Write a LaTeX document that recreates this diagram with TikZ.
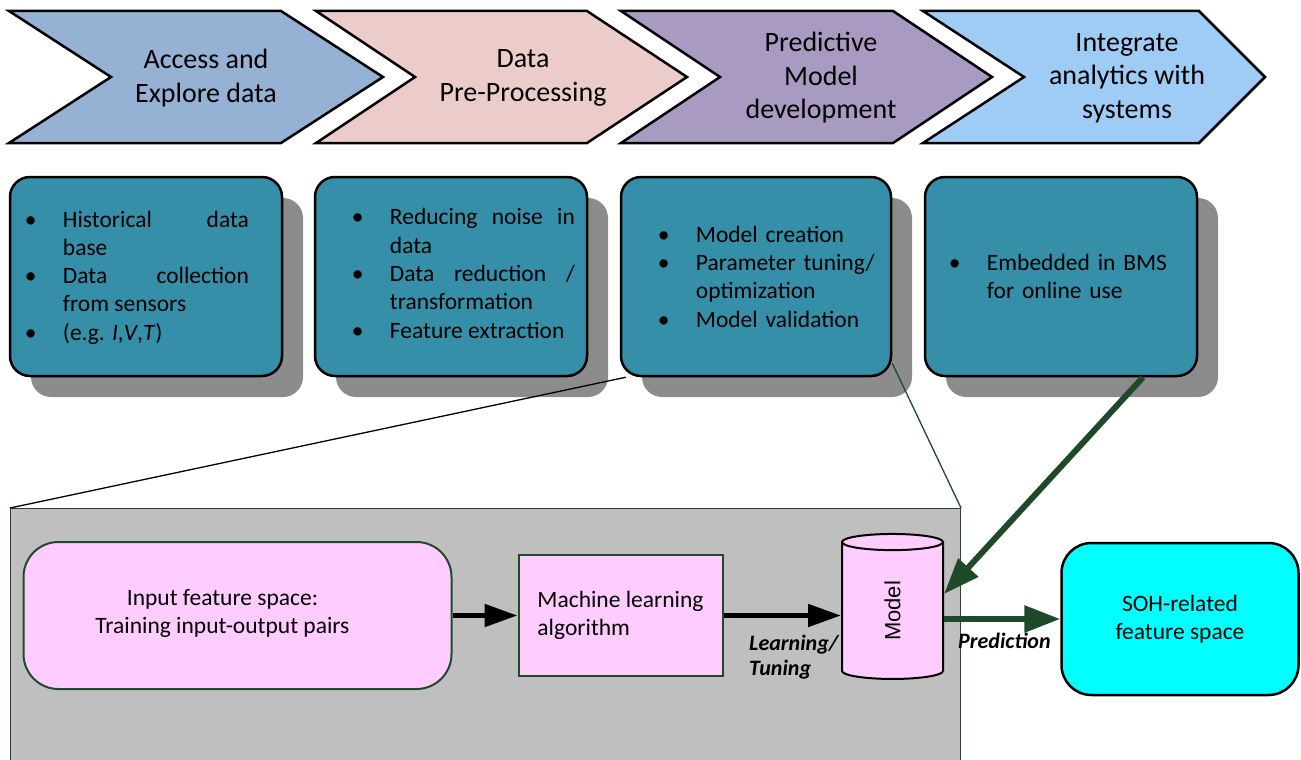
\documentclass[tikz,border=0pt]{standalone}
\usepackage{fontspec}
\setmainfont{Carlito}
\newfontfamily\arialfont{Liberation Sans}
\usetikzlibrary{positioning}
\usetikzlibrary{calc}
\usetikzlibrary{arrows.meta}
\usetikzlibrary{shadows}
\usetikzlibrary{shapes.geometric}

\definecolor{stageA}{RGB}{149,177,211}
\definecolor{stageB}{RGB}{236,204,203}
\definecolor{stageC}{RGB}{168,154,192}
\definecolor{stageD}{RGB}{158,204,245}
\definecolor{taskteal}{RGB}{54,143,168}
\definecolor{shadowgray}{RGB}{140,140,140}
\definecolor{detailgray}{RGB}{191,191,191}
\definecolor{pinkfill}{RGB}{255,204,255}
\definecolor{sohcyan}{RGB}{0,255,255}
\definecolor{darkgreen}{RGB}{30,74,42}

\hbadness=10000
\newcommand{\itm}[1]{\hangindent=38pt\hangafter=1\noindent\makebox[38pt][l]{\textbullet}#1\par}

\begin{document}
\begin{tikzpicture}[x=1pt, y=-1pt,
  chevron/.style={draw=black, line width=2.5pt},
  stagetext/.style={align=center, font=\fontsize{28}{33.5}\selectfont},
  taskbox/.style={draw=black, line width=2.5pt, fill=taskteal, rounded corners=20pt,
    minimum width=272pt, minimum height=199pt,
    general shadow={fill=shadowgray, shadow xshift=21pt, shadow yshift=-21pt}},
  itemtext/.style={inner sep=0pt, anchor=west, text width=224pt, font=\fontsize{23.5}{28.3}\selectfont},
  pinkbox/.style={draw=darkgreen, line width=2pt, fill=pinkfill, font=\fontsize{23.5}{28}\selectfont},
  blackarrow/.style={line width=5pt, -{Triangle[length=33pt, width=22pt]}},
  greenarrow/.style={draw=darkgreen, line width=6pt, -{Triangle[length=36pt, width=26pt]}},
  arrowlabel/.style={inner sep=0pt, align=left, font=\fontsize{22}{24.5}\selectfont\bfseries\itshape}]
  \useasboundingbox (0,0) rectangle (1301,760);

  % process chevrons
  \draw [chevron, fill=stageA] (9,11) -- (281,11) -- (383,77) -- (281,143) -- (9,143) -- (111,77) -- cycle;
  \draw [chevron, fill=stageB] (316,11) -- (587,11) -- (687,77) -- (587,143) -- (316,143) -- (415,77) -- cycle;
  \draw [chevron, fill=stageC] (621,11) -- (893,11) -- (992,77) -- (893,143) -- (621,143) -- (720,77) -- cycle;
  \draw [chevron, fill=stageD] (923,11) -- (1199,11) -- (1265,77) -- (1199,143) -- (923,143) -- (1024,77) -- cycle;

  \node [stagetext] (stage1) at (206,78)  {Access and\\Explore data};
  \node [stagetext] (stage2) at (523,78)  {Data\\Pre-Processing};
  \node [stagetext] (stage3) at (821,78)  {Predictive\\Model\\development};
  \node [stagetext] (stage4) at (1127,78) {Integrate\\analytics with\\systems};

  % detail frame
  \node [draw=darkgreen, line width=1pt, fill=detailgray, anchor=north west,
         minimum width=950pt, minimum height=280pt] (detail) at (10,508) {};

  % task boxes
  \node [taskbox] (box1) at (146,276.5) {};
  \node [taskbox] (box2) at (451,276.5) {};
  \node [taskbox, minimum width=270pt] (box3) at (756,276.5) {};
  \node [taskbox] (box4) at (1061,276.5) {};

  \node [itemtext, align=justify] (list1) at ([xshift=16pt, yshift=-1pt]box1.west)
    {\itm{Historical data\linebreak base}\itm{Data collection\linebreak from sensors}\itm{(e.g. \textit{I},\textit{V},\textit{T})}};
  \node [itemtext, align=justify, text width=223pt] (list2) at ([xshift=38pt, yshift=3pt]box2.west)
    {\itm{Reducing noise in\linebreak data}\itm{Data reduction /\linebreak transformation}\itm{Feature extraction}};
  \node [itemtext, align=left] (list3) at ([xshift=38pt]box3.west)
    {\itm{Model creation}\itm{Parameter tuning/\newline optimization}\itm{Model validation}};
  \node [itemtext, align=left] (list4) at ([xshift=25pt]box4.west)
    {\itm{Embedded in BMS\newline for online use}};

  \draw [black, line width=1.3pt] ([xshift=6pt]box3.south west) -- (detail.north west);
  \draw [darkgreen, line width=1.3pt] ([yshift=14pt]box3.south east) -- (detail.north east);

  % learning chain
  \node [pinkbox, rounded corners=35pt, minimum width=428pt, minimum height=147pt]
    (input) at (237.5,615.5) {};
  \node [align=center, font=\fontsize{23.5}{28}\selectfont] (inputtxt) at ([xshift=-15pt, yshift=2pt]input.center)
    {Input feature space:\\Training input-output pairs};
  \node [pinkbox, minimum width=204pt, minimum height=121pt, align=left]
    (ml) at (620.5,615.5) {Machine learning\\algorithm};
  \node [cylinder, shape border rotate=90, aspect=1, draw=black, line width=2pt, fill=pinkfill,
         minimum width=101pt, minimum height=145pt, inner sep=0pt]
    (model) at (892.5,611) {\rotatebox{90}{\fontsize{22}{26}\arialfont Model}};
  \node [draw=black, line width=2.5pt, fill=sohcyan, rounded corners=30pt, align=center,
         minimum width=237pt, minimum height=152pt, font=\fontsize{23.5}{28}\selectfont]
    (soh) at (1180,619) {SOH-related\\feature space};

  \draw [blackarrow] (input) -- (ml);
  \draw [blackarrow] (ml.east) -- (ml.east -| model.west);
  \draw [greenarrow] (model.east |- soh.west) -- (soh.west);
  \draw [greenarrow] ([xshift=82pt]box4.south) -- ([yshift=17pt]model.east);

  \node [arrowlabel, anchor=north west] (learnlbl) at (749,635) {Learning/\\Tuning};
  \node [arrowlabel, anchor=west] (predlbl) at (958,641) {Prediction};
\end{tikzpicture}
\end{document}
